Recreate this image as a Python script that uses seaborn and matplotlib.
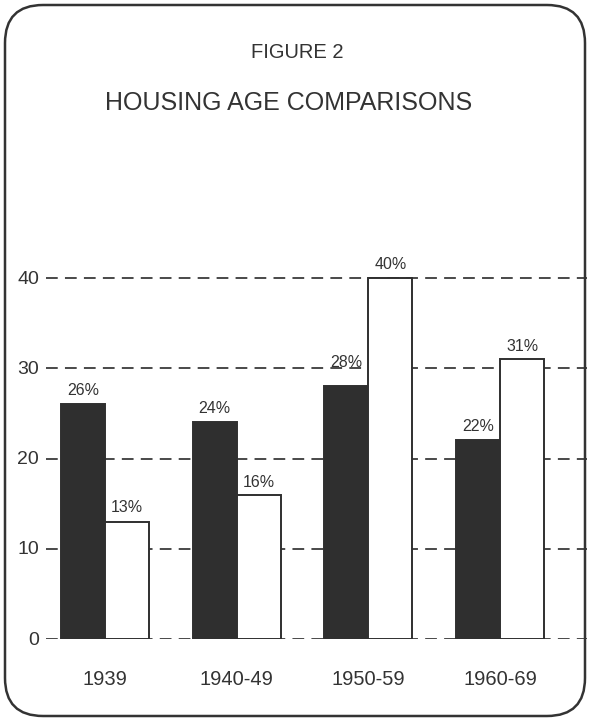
import matplotlib
matplotlib.use("Agg")
import matplotlib.pyplot as plt
from matplotlib.patches import FancyBboxPatch
import matplotlib.transforms as mtrans
import seaborn as sns
import pandas as pd

periods = ["1939", "1940-49", "1950-59", "1960-69"]
series_names = ["Series A", "Series B"]
dark_values = [26, 24, 28, 22]
light_values = [13, 16, 40, 31]
y_ticks = [0, 10, 20, 30, 40]

sns.set_theme(style="white")
plt.rcParams["font.family"] = ["Liberation Sans", "DejaVu Sans"]

df = pd.DataFrame({
    "period": periods * 2,
    "series": [series_names[0]] * 4 + [series_names[1]] * 4,
    "value": dark_values + light_values,
})

W, H = 589, 719
fig = plt.figure(figsize=(W / 100, H / 100), dpi=100)
fig.patch.set_facecolor("white")

ax_left, ax_right = 46, 587
ax_bottom_px = 639
ymax = 43
px_per_unit = 9.025
ax_top_px = ax_bottom_px - ymax * px_per_unit
ax = fig.add_axes([ax_left / W, (H - ax_bottom_px) / H,
                   (ax_right - ax_left) / W, (ax_bottom_px - ax_top_px) / H])

ink = "#2f2f2f"
sns.barplot(data=df, x="period", y="value", hue="series",
            palette=[ink, "white"], width=0.667, gap=0,
            edgecolor=ink, linewidth=1.4, legend=False, ax=ax, zorder=3)

paddings = [[4.5, 4.5, 12, 4.5], [4.5, 3.5, 4.5, 4]]
for cont, pads in zip(ax.containers, paddings):
    labels = [f"{int(round(b.get_height()))}%" for b in cont]
    for bar, lab, pad in zip(cont, labels, pads):
        ax.annotate(lab, (bar.get_x() + bar.get_width() / 2, bar.get_height()),
                    xytext=(0, pad), textcoords="offset points",
                    ha="center", va="bottom", fontsize=11.5, color="#333333")

ax.set_ylim(0, ymax)
scale = 132
ax.set_xlim(-(105 - ax_left) / scale, 3 + (ax_right - 500) / scale)
ax.set_yticks(y_ticks)
ax.set_yticklabels([str(t) for t in y_ticks])
ax.set_xlabel("")
ax.set_ylabel("")
for s in ax.spines.values():
    s.set_visible(False)
ax.tick_params(axis="both", length=0)
ax.tick_params(axis="y", pad=5, labelsize=14, labelcolor="#333333")
ax.tick_params(axis="x", pad=22, labelsize=14.5, labelcolor="#333333")
for lab in ax.get_yticklabels():
    lab.set_verticalalignment("bottom")
ax.yaxis.grid(True, color="#3a3a3a", linewidth=1.3, linestyle=(0, (6.5, 4)))
ax.xaxis.grid(False)
ax.set_axisbelow(True)
ax.set_facecolor("none")
off = mtrans.ScaledTranslation(0, -7 / 72, fig.dpi_scale_trans)
for lab in ax.get_yticklabels():
    lab.set_transform(lab.get_transform() + off)

fig.text(297 / W, 1 - 52 / H, "FIGURE 2", ha="center", va="center",
         fontsize=14.5, color="#333333")
fig.text(289 / W, 1 - 103 / H, "HOUSING AGE COMPARISONS", ha="center",
         va="center", fontsize=18, color="#333333")

frame = FancyBboxPatch((5 / 100, 3 / 100), 580 / 100, 711 / 100,
                       boxstyle="round,pad=0,rounding_size=0.38",
                       transform=fig.dpi_scale_trans, fill=False,
                       edgecolor="#333333", linewidth=1.8, zorder=10)
fig.patches.append(frame)

fig.savefig("out.png", dpi=100)
